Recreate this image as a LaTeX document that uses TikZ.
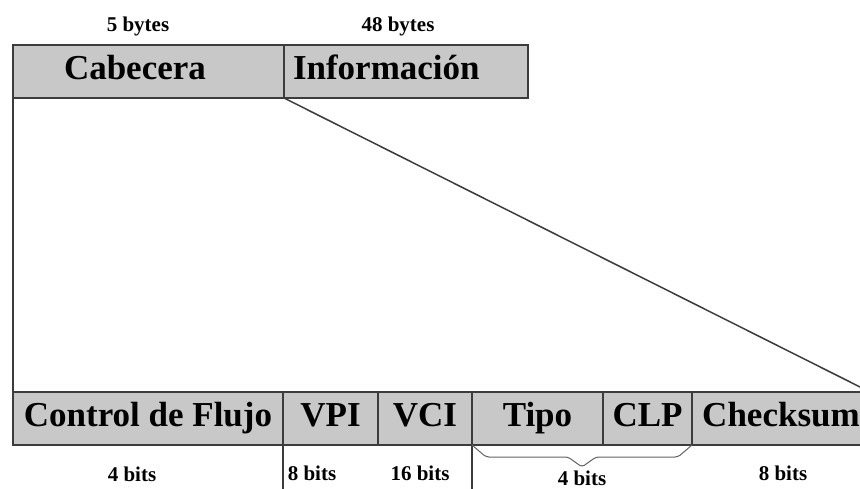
\documentclass[tikz,border=0pt]{standalone}
\usepackage{fontspec}
\setmainfont{Liberation Serif}
\usetikzlibrary{positioning}
\definecolor{cellgray}{HTML}{C8C8C8}
\definecolor{cellline}{HTML}{3C3C3C}
\tikzset{
    field/.style={rectangle, draw=cellline, fill=cellgray, line width=2pt,
        minimum width=#1, minimum height=53pt,
        inner sep=0pt, outer sep=0pt,
        text height=26pt, text depth=10pt,
        font=\fontsize{35}{35}\selectfont\bfseries},
    sizelabel/.style={font=\fontsize{21}{21}\selectfont\bfseries, inner sep=0pt},
    zoomline/.style={draw=cellline, line width=1.5pt},
    bracket/.style={draw=cellline!80, line width=1pt, rounded corners=3pt},
}
\begin{document}
\begin{tikzpicture}[x=1pt, y=-1pt]

    \useasboundingbox (0,0) rectangle (860,489);
    \clip (0,0) rectangle (860,489);

    % -- Cell: header + payload --
    \node[field=271pt, anchor=north west, align=left,
          text width=169pt, inner xsep=51pt] (cab) at (13,45) {Cabecera};
    \node[field=244pt, right=0pt of cab, align=left,
          text width=226pt, inner xsep=9pt] (info) {Información};

    \node[sizelabel] (lcab)  at (138,26) {5 bytes};
    \node[sizelabel] (linfo) at (398,26) {48 bytes};

    % -- Expanded fields --
    \node[field=270pt, anchor=north west] (cf) at (13,392) {Control de Flujo};
    \node[field=95pt,  right=0pt of cf]   (vpi)  {VPI};
    \node[field=94pt,  right=0pt of vpi]  (vci)  {VCI};
    \node[field=131pt, right=0pt of vci]  (tipo) {Tipo};
    \node[field=89pt,  right=0pt of tipo] (clp)  {CLP};
    \node[field=178pt, right=0pt of clp]  (chk)  {Checksum};

    % -- Zoom lines --
    \draw[zoomline] (cab.south west) -- (cf.north west);
    \draw[zoomline] (info.south west) -- (chk.north east);

    % -- Separators under the fields --
    \coordinate (floor) at (0,489);
    \draw[zoomline] (vpi.south west) -- (vpi.south west |- floor);
    \draw[zoomline] (tipo.south west) -- (tipo.south west |- floor);

    % -- Bracket over Tipo + CLP --
    \draw[bracket] (tipo.south west) -- ++(14,12) -- ++(82,0)
        -- ++(14,10) -- ++(14,-10) -- ++(82,0) -- (clp.south east);

    % -- Field sizes --
    \node[sizelabel] (lcf)   at (132,474) {4 bits};
    \node[sizelabel] (lvpi)  at (312,473) {8 bits};
    \node[sizelabel] (lvci)  at (420,473) {16 bits};
    \node[sizelabel] (ltipo) at (582,478) {4 bits};
    \node[sizelabel] (lchk)  at (783,473) {8 bits};

\end{tikzpicture}
\end{document}
